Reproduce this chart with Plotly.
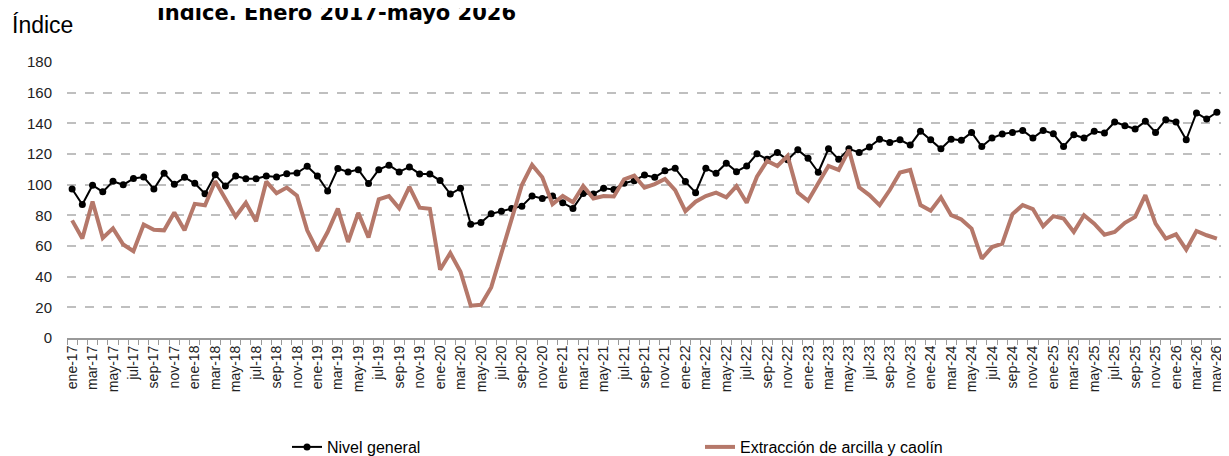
import plotly.graph_objects as go

meses = ["ene", "feb", "mar", "abr", "may", "jun", "jul", "ago", "sep", "oct", "nov", "dic"]
months = [f"{m}-{str(y)[2:]}" for y in range(2017, 2027) for m in meses][:113]

nivel_general = [
    97.2, 87.1, 99.6, 95.3, 102.2, 99.9, 104.0, 105.0, 97.2, 107.5, 100.2, 104.8,
    100.9, 94.1, 106.5, 99.1, 105.7, 103.9, 103.9, 105.7, 105.0, 107.2, 107.6, 112.0,
    105.7, 95.9, 110.5, 108.3, 109.8, 100.7, 109.8, 112.7, 108.3, 111.6, 107.0, 106.9,
    102.7, 93.9, 97.6, 74.2, 75.3, 81.0, 82.7, 84.5, 86.0, 92.6, 91.0, 92.6,
    88.2, 84.5, 94.3, 93.9, 97.6, 96.9, 100.9, 102.6, 106.3, 104.8, 109.0, 110.7,
    102.0, 94.8, 110.7, 107.4, 114.0, 108.5, 112.2, 120.1, 116.6, 121.0, 116.2, 122.7,
    117.3, 108.1, 123.4, 116.5, 123.4, 121.0, 124.6, 129.7, 127.5, 129.3, 125.8, 134.8,
    129.3, 123.4, 129.7, 128.9, 134.1, 124.9, 130.4, 133.0, 134.1, 135.4, 130.4, 135.4,
    133.2, 124.9, 132.6, 130.4, 134.8, 133.7, 140.9, 138.5, 136.3, 141.3, 134.1, 142.4,
    140.9, 129.3, 146.8, 142.8, 147.2,
]

arcilla_caolin = [
    76.7, 64.9, 89.0, 65.2, 71.5, 61.0, 56.6, 74.0, 70.6, 70.2, 81.8, 70.2,
    87.5, 86.6, 102.2, 90.6, 79.2, 88.2, 76.1, 102.0, 94.4, 98.1, 92.8, 70.2,
    56.9, 69.1, 84.4, 62.6, 81.6, 65.5, 90.4, 92.5, 84.6, 98.6, 85.0, 84.3,
    44.5, 55.4, 43.2, 21.1, 21.7, 33.0, 55.5, 77.5, 99.8, 112.9, 104.8, 87.3,
    92.6, 88.5, 99.2, 91.0, 92.6, 92.3, 103.5, 105.9, 98.0, 100.4, 103.7, 96.5,
    82.7, 88.9, 92.6, 94.8, 91.7, 99.1, 88.2, 105.2, 115.5, 112.2, 118.8, 94.8,
    89.5, 100.9, 112.2, 109.6, 122.7, 98.3, 93.2, 86.7, 96.5, 107.9, 109.6, 86.7,
    83.0, 91.7, 80.1, 77.3, 71.4, 51.7, 59.3, 61.5, 80.8, 86.7, 84.1, 72.9,
    79.5, 77.9, 69.2, 80.1, 74.6, 67.4, 69.2, 75.1, 79.0, 93.2, 74.6, 64.8,
    67.6, 57.6, 69.8, 67.0, 64.8,
]

y_ticks = [0, 20, 40, 60, 80, 100, 120, 140, 160, 180]

x = list(range(len(months)))
tick_idx = x[::2]
tick_txt = [months[i] for i in tick_idx]

BROWN = "#B5786A"
FONT = "Liberation Sans, Arial, sans-serif"

# page has an 8px body margin; plot area wanted at page x 67..1222, y 62..338
L, T, PW, PH = 59, 54, 1155, 276
W, H = 1229, 456


def px(xf):
    return (xf - L) / PW


def py(yf):
    return (T + PH - yf) / PH


fig = go.Figure()
fig.add_trace(go.Scatter(
    x=x, y=nivel_general, name="Nivel general", mode="lines+markers",
    line=dict(color="black", width=2), marker=dict(color="black", size=7),
))
fig.add_trace(go.Scatter(
    x=x, y=arcilla_caolin, name="Extracción de arcilla y caolín", mode="lines",
    line=dict(color=BROWN, width=4),
))

fig.update_layout(
    width=W, height=H,
    margin=dict(l=L, r=W - L - PW, t=T, b=H - T - PH, autoexpand=False),
    paper_bgcolor="white", plot_bgcolor="white",
    font=dict(family=FONT, size=15, color="#222"),
    showlegend=True,
    legend=dict(
        orientation="h", x=px(279), xanchor="left", y=py(439), yanchor="middle",
        entrywidth=368, entrywidthmode="pixels",
        font=dict(family=FONT, size=16, color="black"),
        bgcolor="rgba(0,0,0,0)",
    ),
    annotations=[
        dict(text="<b>Índice. Enero 2017-mayo 2026</b>", xref="paper", yref="paper",
             x=px(328), y=py(4), xanchor="center", yanchor="middle",
             showarrow=False, font=dict(family="DejaVu Sans, sans-serif", size=21, color="black")),
        dict(text="Índice", xref="paper", yref="paper",
             x=px(2), y=py(17), xanchor="left", yanchor="middle",
             showarrow=False, font=dict(family="Liberation Sans Narrow, Liberation Sans, sans-serif", size=23, color="black")),
    ],
)

fig.update_xaxes(
    range=[-0.5, len(months) - 0.5],
    tickmode="array", tickvals=tick_idx, ticktext=tick_txt,
    tickangle=-90, tickfont=dict(family=FONT, size=14, color="#222"),
    ticks="", showgrid=False, zeroline=False,
    showline=True, linecolor="#999999", linewidth=2,
    minor=dict(tickmode="linear", tick0=-0.5, dtick=1, ticks="outside",
               ticklen=5, tickcolor="#999999", tickwidth=1, showgrid=False),
)
fig.update_yaxes(
    range=[0, 180], tickmode="array", tickvals=y_ticks,
    tickfont=dict(family=FONT, size=15, color="#222"),
    showgrid=True, gridcolor="#BFBFBF", gridwidth=1.5, griddash="dash",
    zeroline=False, showline=False, ticklabelstandoff=14,
)

fig.write_html("out.html")
